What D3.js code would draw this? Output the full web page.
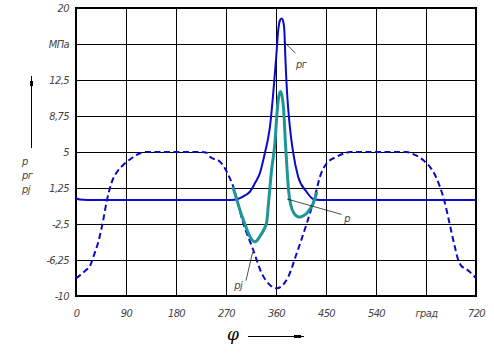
<!DOCTYPE html>
<html>
<head>
<meta charset="utf-8">
<script src="https://cdn.jsdelivr.net/npm/d3@7"></script>
<style>
  html, body { margin: 0; padding: 0; background: #fff; }
  svg { display: block; }
  .lbl { font-family: "Liberation Sans Narrow", "DejaVu Sans Condensed", "Liberation Sans", sans-serif; font-style: italic; font-size: 11px; fill: #444; letter-spacing: -0.6px; }
</style>
</head>
<body>
<svg id="chart" width="494" height="358"></svg>
<script>
// ---- data ----
const phiPj = [0, 8, 18, 25, 32, 40, 49, 55, 64, 76, 85, 100, 118, 127, 180, 223, 235, 241, 259, 268, 277, 283, 301, 319, 334, 349, 361, 382, 397, 415, 430, 439, 451, 469, 487, 493, 540, 595, 610, 628, 643, 655, 664, 673, 682, 688, 694, 700, 709, 720];
const pjValues = [-8.16, -7.8, -7.3, -6.9, -5.8, -4.4, -2.1, -0.2, 1.8, 3.1, 3.65, 4.35, 4.93, 5.0, 5.0, 5.0, 4.93, 4.5, 4.0, 3.3, 2.26, 1.4, -2.4, -5.2, -7.6, -8.85, -9.2, -8.0, -5.6, -2.5, 0.35, 2.4, 3.8, 4.5, 4.93, 5.0, 5.0, 5.0, 4.7, 4.0, 2.95, 1.4, -0.3, -2.6, -4.9, -6.25, -6.9, -7.1, -7.5, -8.16];

const phiPg = [0, 7, 20, 100, 200, 270, 286, 292, 305, 313, 322, 331, 340, 346, 349, 355, 360, 364, 367, 370, 373, 375, 377, 380, 385, 391, 400, 415, 427, 439, 500, 600, 720];
const pgValues = [0.15, 0.05, 0, 0, 0, 0, 0.02, 0.12, 0.5, 0.86, 1.74, 2.8, 4.9, 6.5, 7.6, 11.1, 14.6, 17.7, 18.7, 18.9, 18.6, 17.7, 14.6, 11.1, 7.6, 4.9, 2.4, 0.86, 0.1, 0, 0, 0, 0];

const phiP = [283, 289, 295, 304, 313, 322, 331, 338, 343, 347, 352, 358, 362, 365, 368, 371, 374, 377, 380, 383, 387, 392, 398, 403, 409, 415, 421, 427, 433];
const pValues = [1.25, 0.1, -1.04, -2.5, -3.8, -4.35, -3.8, -3.1, -2.4, 0, 3.1, 5.9, 9.2, 10.8, 11.3, 10.8, 9.2, 5.9, 3.1, 0.8, -0.6, -1.35, -1.7, -1.78, -1.65, -1.4, -0.95, -0.35, 0.7];

const xTicks = [0, 90, 180, 270, 360, 450, 540, 630, 720];
const xTickLabels = ["0", "90", "180", "270", "360", "450", "540", "град", "720"];
const yTicks = [-10, -6.25, -2.5, 1.25, 5, 8.75, 12.5, 16.25, 20];
const yTickLabels = ["-10", "-6,25", "-2,5", "1,25", "5", "8,75", "12,5", "МПа", "20"];

// annotation anchors (data space): curve point -> label point
const annotations = [
  { text: "pг", from: [374, 16.5], to: [395, 15.3], label: [396, 14.2] },
  { text: "p",  from: [380, 0.1], to: [478, -1.5], label: [483, -1.9] },
  { text: "pj", from: [318, -5.4], to: [306, -8.4], label: [285, -8.9] }
];
const legendNames = ["p", "pг", "pj"];

// ---- layout ----
const svg = d3.select("#chart");
const x = d3.scaleLinear().domain([0, 720]).range([76, 476]);
const y = d3.scaleLinear().domain([-10, 20]).range([296, 8]);

// grid + axes
const yAxis = d3.axisLeft(y).tickValues(yTicks)
  .tickSize(-(x.range()[1] - x.range()[0]))
  .tickPadding(7)
  .tickFormat((d, i) => yTickLabels[i]);
const gy = svg.append("g").attr("transform", `translate(${x.range()[0]},0)`).call(yAxis);

const xAxis = d3.axisBottom(x).tickValues(xTicks)
  .tickSize(-(y.range()[0] - y.range()[1]))
  .tickPadding(13)
  .tickFormat((d, i) => xTickLabels[i]);
const gx = svg.append("g").attr("transform", `translate(0,${y.range()[0]})`).call(xAxis);

[gx, gy].forEach(g => {
  g.select(".domain").remove();
  g.selectAll(".tick line").attr("stroke", "#000").attr("stroke-width", 1.2).attr("shape-rendering", "crispEdges");
  g.selectAll(".tick text").attr("class", "lbl").attr("fill", "#444");
});
gy.selectAll(".tick text").attr("dy", "0.28em");

// frame
svg.append("rect")
  .attr("x", x.range()[0]).attr("y", y.range()[1])
  .attr("width", x.range()[1] - x.range()[0])
  .attr("height", y.range()[0] - y.range()[1])
  .attr("fill", "none").attr("stroke", "#000").attr("stroke-width", 1.2)
  .attr("shape-rendering", "crispEdges");

const line = d3.line().x(d => x(d[0])).y(d => y(d[1])).curve(d3.curveMonotoneX);

// pj dashed
svg.append("path")
  .datum(d3.zip(phiPj, pjValues))
  .attr("d", line)
  .attr("fill", "none").attr("stroke", "#0a0ac0").attr("stroke-width", 2)
  .attr("stroke-dasharray", "6,3.5");

// pg solid
svg.append("path")
  .datum(d3.zip(phiPg, pgValues))
  .attr("d", line)
  .attr("fill", "none").attr("stroke", "#0a0ac8").attr("stroke-width", 2);

// p teal
svg.append("path")
  .datum(d3.zip(phiP, pValues))
  .attr("d", line)
  .attr("fill", "none").attr("stroke", "#1f9696").attr("stroke-width", 3)
  .attr("stroke-linejoin", "round").attr("stroke-linecap", "round");

// annotations
annotations.forEach(a => {
  svg.append("line")
    .attr("x1", x(a.from[0])).attr("y1", y(a.from[1]))
    .attr("x2", x(a.to[0])).attr("y2", y(a.to[1]))
    .attr("stroke", "#000").attr("stroke-width", 0.7);
  svg.append("text").attr("class", "lbl")
    .attr("x", x(a.label[0])).attr("y", y(a.label[1]))
    .attr("dy", "0.35em")
    .text(a.text);
});

// left legend labels + arrow
legendNames.forEach((n, i) => {
  svg.append("text").attr("class", "lbl")
    .attr("x", 22).attr("y", 165 + i * 14)
    .text(n);
});
svg.append("line").attr("x1", 31.5).attr("x2", 31.5).attr("y1", 76).attr("y2", 148)
  .attr("stroke", "#000").attr("stroke-width", 1);
svg.append("rect").attr("x", 30).attr("y", 81).attr("width", 3).attr("height", 5).attr("fill", "#000");

// phi axis label + arrow
svg.append("text")
  .attr("x", 233).attr("y", 340)
  .attr("text-anchor", "middle")
  .attr("font-family", "DejaVu Serif, serif")
  .attr("font-style", "italic")
  .attr("font-size", 17)
  .attr("fill", "#000")
  .text("φ");
svg.append("line").attr("x1", 248).attr("x2", 304).attr("y1", 336.5).attr("y2", 336.5)
  .attr("stroke", "#000").attr("stroke-width", 1);
svg.append("rect").attr("x", 294).attr("y", 335).attr("width", 7).attr("height", 3).attr("fill", "#000");
</script>
</body>
</html>
